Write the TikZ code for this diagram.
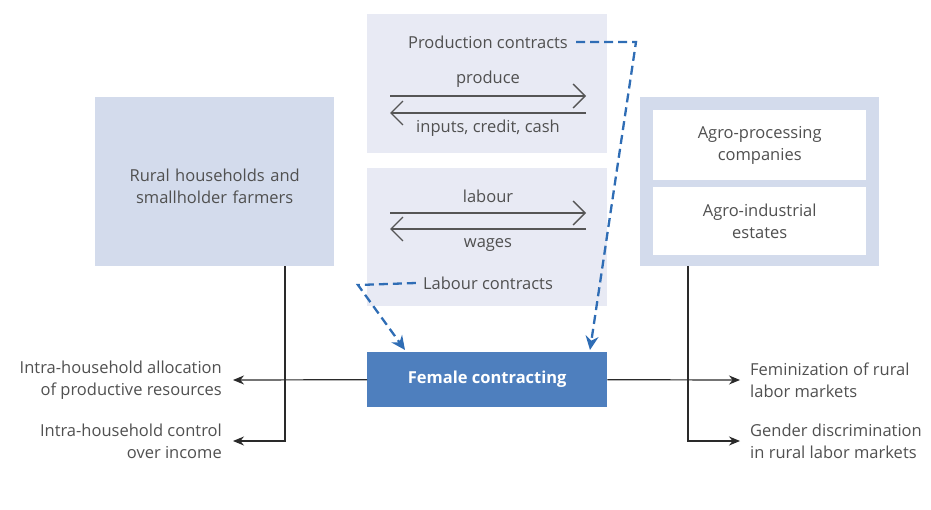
\documentclass[tikz,border=0pt]{standalone}
\usepackage{fontspec}
\setmainfont{Open Sans}
\usetikzlibrary{arrows.meta}
\definecolor{lav}{HTML}{E8EAF4}
\definecolor{pale}{HTML}{D3DBEC}
\definecolor{fem}{HTML}{4E7FBE}
\definecolor{dashblue}{HTML}{2F6DB5}
\definecolor{txt}{HTML}{505050}
\definecolor{ln}{HTML}{2A2A2A}
\tikzset{
  x=1pt,y=-1pt,
  every node/.style={font=\fontsize{16.5}{22}\selectfont, text=txt, inner sep=0pt},
  lavbox/.style={fill=lav, draw=none},
  palebox/.style={fill=pale, draw=none},
  whitebox/.style={fill=white, draw=none},
  flow/.style={draw=ln, line width=1.2pt, -{Stealth[length=11pt,width=9pt]}},
  exch/.style={draw=ln!80, line width=1.3pt, -{Straight Barb[length=12pt,width=24pt]}},
  contract/.style={draw=dashblue, line width=2.3pt, dash pattern=on 9pt off 5pt, -{Stealth[length=14pt,width=13pt]}},
}
\begin{document}
\begin{tikzpicture}
\useasboundingbox (0,0) rectangle (931,509);
% boxes
\node[lavbox, minimum width=240, minimum height=139, anchor=north west] (prod) at (367,14) {};
\node[lavbox, minimum width=240, minimum height=138, anchor=north west] (lab) at (367,168) {};
\node[palebox, minimum width=239, minimum height=169, anchor=north west] (rural) at (95,97) {};
\node[text width=220, align=center] (ruraltxt) at ([yshift=-5pt]rural.center) {Rural households and\\smallholder farmers};
\node[palebox, minimum width=239, minimum height=169, anchor=north west] (agro) at (640,97) {};
\node[whitebox, minimum width=213, minimum height=70, anchor=north west] (comp) at (653,110) {};
\node[align=center] (comptxt) at (comp.center) {Agro-processing\\companies};
\node[whitebox, minimum width=213, minimum height=68, anchor=north west] (est) at (653,187) {};
\node[align=center] (esttxt) at (est.center) {Agro-industrial\\estates};
\node[fill=fem, minimum width=240, minimum height=55, anchor=north west] (female) at (367,352) {};
\node[text=white, font=\fontsize{16.5}{22}\selectfont\bfseries] (femtxt) at (female.center) {Female contracting};

% production contracts
\node (prodtxt) at (488,42) {Production contracts};
\coordinate (p1l) at (390,96); \coordinate (p1r) at (586,96);
\coordinate (p2l) at (390,113); \coordinate (p2r) at (586,113);
\draw[exch] (p1l) -- (p1r);
\draw[exch] (p2r) -- (p2l);
\node (produce) at (488,79) {produce};
\node (inputs) at (488,128) {inputs, credit, cash};

% labour contracts
\coordinate (l1l) at (390,213); \coordinate (l1r) at (586,213);
\coordinate (l2l) at (390,229); \coordinate (l2r) at (586,229);
\draw[exch] (l1l) -- (l1r);
\draw[exch] (l2r) -- (l2l);
\node (labourtxt) at (488,196) {labour};
\node (wages) at (488,245) {wages};
\node (labtxt) at (488,283) {Labour contracts};

% dashed contract arrows
\coordinate (pc1) at (636,42);
\coordinate (lc1) at (358,285);
\coordinate (fe1) at (590,350);
\coordinate (fe2) at (405,350);
\draw[contract] ([xshift=8pt]prodtxt.east) -- (pc1) -- (fe1);
\draw[contract] ([xshift=-7pt]labtxt.west) -- (lc1) -- (fe2);

% outputs
\node[align=right, anchor=east] (alloc) at (222,380) {Intra-household allocation\\of productive resources};
\node[align=right, anchor=east] (control) at (222,441) {Intra-household control\\over income};
\node[align=left, anchor=west] (femin) at (750,380) {Feminization of rural\\labor markets};
\node[align=left, anchor=west] (gender) at (750,441) {Gender discrimination\\in rural labor markets};

\coordinate (lv) at (285,441);
\coordinate (rv) at (688,441);
\draw[flow] (female.west) -- ([xshift=11pt]alloc.east);
\draw[flow] (285,266) -- (lv) -- ([xshift=11pt]control.east);
\draw[flow] (female.east) -- ([xshift=-10pt]femin.west);
\draw[flow] (688,266) -- (rv) -- ([xshift=-10pt]gender.west);
\end{tikzpicture}
\end{document}
